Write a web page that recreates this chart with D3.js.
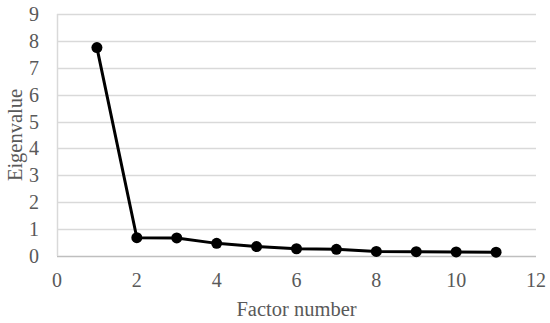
<!DOCTYPE html>
<html>
<head>
<meta charset="utf-8">
<script src="https://cdn.jsdelivr.net/npm/d3@7"></script>
<style>
  body { margin: 0; background: #fff; }
  text { font-family: "Liberation Serif", "Times New Roman", serif; fill: #595959; }
</style>
</head>
<body>
<div id="chart"></div>
<script>
// scree plot values
var factors = [1, 2, 3, 4, 5, 6, 7, 8, 9, 10, 11];
var eigenvalues = [7.75, 0.68, 0.67, 0.47, 0.35, 0.27, 0.25, 0.17, 0.16, 0.15, 0.14];
var xTicks = [0, 2, 4, 6, 8, 10, 12];
var yTicks = [0, 1, 2, 3, 4, 5, 6, 7, 8, 9];

var width = 550, height = 323;
var margin = {top: 14, right: 14, bottom: 67, left: 57};

var svg = d3.select("#chart").append("svg")
  .attr("width", width)
  .attr("height", height);

var x = d3.scaleLinear().domain([0, 12]).range([margin.left, width - margin.right]);
var y = d3.scaleLinear().domain([0, 9]).range([height - margin.bottom, margin.top]);

// gridlines
svg.append("g").selectAll("line")
  .data(yTicks.slice(1))
  .enter().append("line")
  .attr("x1", x(0)).attr("x2", x(12))
  .attr("y1", function(d){ return Math.round(y(d)) + 0.5; })
  .attr("y2", function(d){ return Math.round(y(d)) + 0.5; })
  .attr("stroke", "#d9d9d9").attr("stroke-width", 1.5);

// axis lines
svg.append("line")
  .attr("x1", x(0)).attr("x2", x(12))
  .attr("y1", Math.round(y(0)) + 0.5).attr("y2", Math.round(y(0)) + 0.5)
  .attr("stroke", "#bfbfbf").attr("stroke-width", 1.5);
svg.append("line")
  .attr("x1", Math.round(x(0)) + 0.5).attr("x2", Math.round(x(0)) + 0.5)
  .attr("y1", y(0)).attr("y2", y(9))
  .attr("stroke", "#d9d9d9").attr("stroke-width", 1.5);

// tick labels
svg.append("g").selectAll("text")
  .data(yTicks)
  .enter().append("text")
  .attr("x", x(0) - 18)
  .attr("y", function(d){ return y(d); })
  .attr("dy", "0.35em")
  .attr("text-anchor", "end")
  .style("font-size", "20px")
  .text(function(d){ return d; });

svg.append("g").selectAll("text")
  .data(xTicks)
  .enter().append("text")
  .attr("x", function(d){ return x(d); })
  .attr("y", y(0) + 31)
  .attr("text-anchor", "middle")
  .style("font-size", "20px")
  .text(function(d){ return d; });

// axis titles
svg.append("text")
  .attr("x", (x(0) + x(12)) / 2)
  .attr("y", 316)
  .attr("text-anchor", "middle")
  .style("font-size", "20.5px")
  .text("Factor number");

svg.append("text")
  .attr("transform", "translate(22," + ((y(0) + y(9)) / 2) + ") rotate(-90)")
  .attr("text-anchor", "middle")
  .style("font-size", "20.5px")
  .text("Eigenvalue");

// series
var pts = factors.map(function(f, i){ return [f, eigenvalues[i]]; });
var line = d3.line()
  .x(function(d){ return x(d[0]); })
  .y(function(d){ return y(d[1]); });

svg.append("path")
  .datum(pts)
  .attr("d", line)
  .attr("fill", "none")
  .attr("stroke", "#000")
  .attr("stroke-width", 3)
  .attr("stroke-linejoin", "round");

svg.append("g").selectAll("circle")
  .data(pts)
  .enter().append("circle")
  .attr("cx", function(d){ return x(d[0]); })
  .attr("cy", function(d){ return y(d[1]); })
  .attr("r", 5.5)
  .attr("fill", "#000");
</script>
</body>
</html>
